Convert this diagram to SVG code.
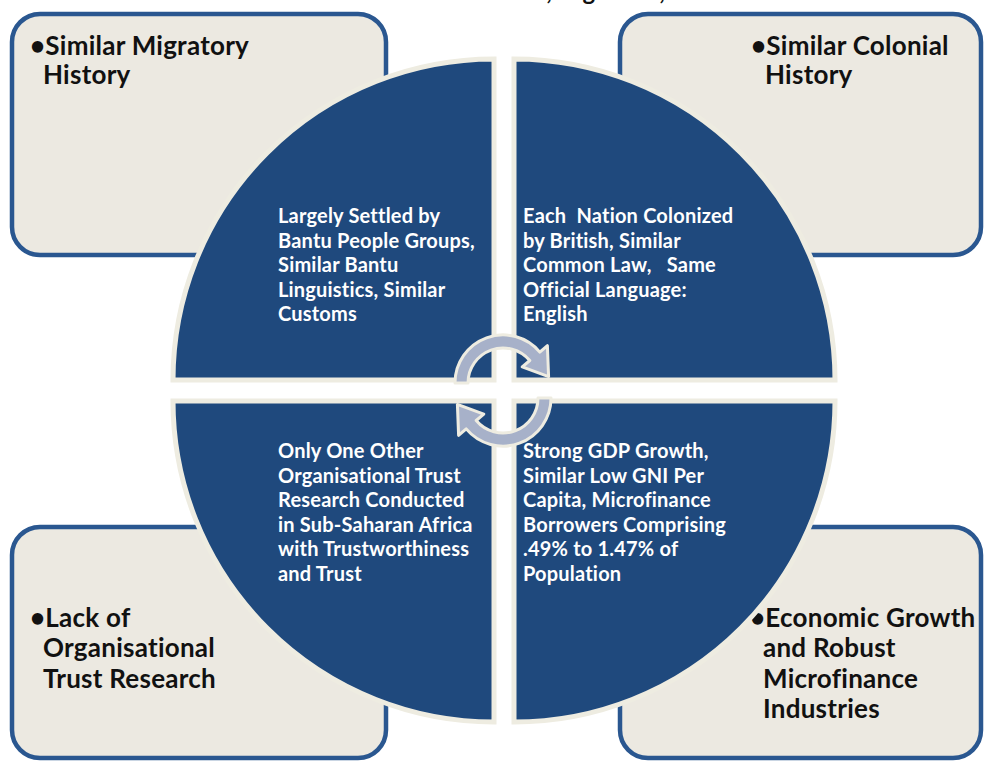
<svg xmlns="http://www.w3.org/2000/svg" width="984" height="762" viewBox="0 0 984 762">
<style>
.box{fill:#ECE9E1;stroke:#2A5790;stroke-width:4.5}
.boxtxt{font-family:Lato,"Open Sans","Liberation Sans",sans-serif;font-weight:700;font-size:26px;letter-spacing:0.25px;fill:#111}
.quad{fill:#1F497D;stroke:#EEECE1;stroke-width:5}
.qtxt{font-family:Lato,"Open Sans","Liberation Sans",sans-serif;font-weight:700;font-size:20px;letter-spacing:0.2px;fill:#FFFFFF}
.arr{fill:#A7B1C9;stroke:#EEECE1;stroke-width:3;stroke-linejoin:round}
.title{font-family:Lato,"Open Sans","Liberation Sans",sans-serif;font-weight:700;font-size:24px;fill:#111}
</style>
<rect x="0" y="0" width="984" height="762" fill="#FFFFFF"/>
<text class="title" x="130" y="0" textLength="710">Reasons for Selection of Zambia, Uganda, and Tanzania</text>

<g id="box-tl">
<rect class="box" x="12" y="14" width="374" height="241" rx="28"/>
<text class="boxtxt" x="30" y="55">•Similar Migratory</text>
<text class="boxtxt" x="43" y="84">History</text>
</g>
<g id="box-tr">
<rect class="box" x="620" y="14" width="361" height="241" rx="28"/>
<text class="boxtxt" x="751" y="55">•Similar Colonial</text>
<text class="boxtxt" x="765" y="84">History</text>
</g>
<g id="box-bl">
<rect class="box" x="12" y="527" width="374" height="231" rx="28"/>
<text class="boxtxt" x="30" y="627">•Lack of</text>
<text class="boxtxt" x="43" y="657">Organisational</text>
<text class="boxtxt" x="43" y="688">Trust Research</text>
</g>
<g id="box-br">
<rect class="box" x="620" y="527" width="361" height="231" rx="28"/>
<text class="boxtxt" x="750" y="627">•Economic Growth</text>
<text class="boxtxt" x="763" y="657">and Robust</text>
<text class="boxtxt" x="763" y="688">Microfinance</text>
<text class="boxtxt" x="763" y="718">Industries</text>
</g>

<g id="quad-tl">
<path class="quad" d="M494,380 L173,380 A321,321 0 0 1 494,59 Z"/>
<text class="qtxt" x="278" y="223">Largely Settled by</text>
<text class="qtxt" x="278" y="247.5">Bantu People Groups,</text>
<text class="qtxt" x="278" y="272">Similar Bantu</text>
<text class="qtxt" x="278" y="296.5">Linguistics, Similar</text>
<text class="qtxt" x="278" y="321">Customs</text>
</g>
<g id="quad-tr">
<path class="quad" d="M514,380 L514,59 A321,321 0 0 1 835,380 Z"/>
<text class="qtxt" x="523" y="223" xml:space="preserve">Each  Nation Colonized</text>
<text class="qtxt" x="523" y="247.5">by British, Similar</text>
<text class="qtxt" x="523" y="272" xml:space="preserve">Common Law,   Same</text>
<text class="qtxt" x="523" y="296.5">Official Language:</text>
<text class="qtxt" x="523" y="321">English</text>
</g>
<g id="quad-bl">
<path class="quad" d="M494,401 L494,722 A321,321 0 0 1 173,401 Z"/>
<text class="qtxt" x="278" y="458">Only One Other</text>
<text class="qtxt" x="278" y="482.5">Organisational Trust</text>
<text class="qtxt" x="278" y="507">Research Conducted</text>
<text class="qtxt" x="278" y="531.5">in Sub-Saharan Africa</text>
<text class="qtxt" x="278" y="556">with Trustworthiness</text>
<text class="qtxt" x="278" y="580.5">and Trust</text>
</g>
<g id="quad-br">
<path class="quad" d="M514,401 L835,401 A321,321 0 0 1 514,722 Z"/>
<text class="qtxt" x="523" y="458">Strong GDP Growth,</text>
<text class="qtxt" x="523" y="482.5">Similar Low GNI Per</text>
<text class="qtxt" x="523" y="507">Capita, Microfinance</text>
<text class="qtxt" x="523" y="531.5">Borrowers Comprising</text>
<text class="qtxt" x="523" y="556">.49% to 1.47% of</text>
<text class="qtxt" x="523" y="580.5">Population</text>
</g>

<g id="connectors">
<defs>
<path id="cyc" d="M455,383 A48,48 0 0 1 539.8,352.1 L547.4,345.7 L548.6,376.6 L522.2,366.9 L529.8,360.5 A35,35 0 0 0 468,383 Z"/>
</defs>
<use href="#cyc" class="arr"/>
<use href="#cyc" class="arr" transform="rotate(180 503 390.5)"/>
</g>
</svg>
